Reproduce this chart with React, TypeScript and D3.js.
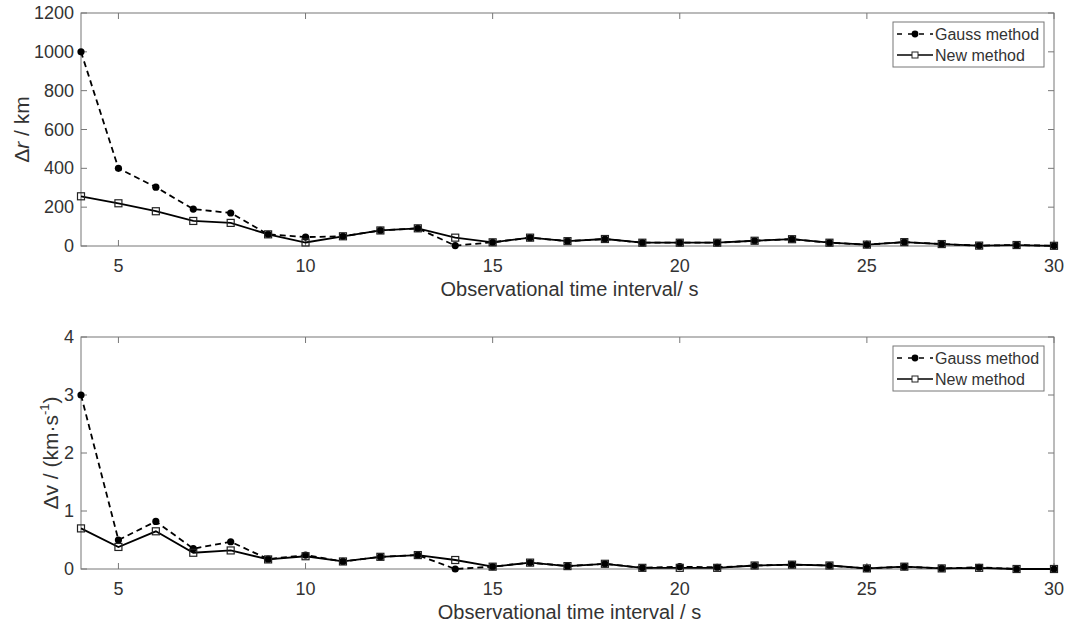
import React, { useEffect, useRef } from "react";
import { select, scaleLinear, line } from "d3";

// observational time interval (s)
const intervals = [4, 5, 6, 7, 8, 9, 10, 11, 12, 13, 14, 15, 16, 17, 18, 19, 20, 21, 22, 23, 24, 25, 26, 27, 28, 29, 30];

// position error, km
const gaussR = [1000, 400, 303, 190, 170, 60, 46, 50, 80, 91, 2, 19, 43, 25, 36, 17, 17, 17, 27, 35, 17, 7, 20, 10, 2, 5, 1];
const newR = [256, 220, 179, 129, 119, 60, 18, 50, 80, 91, 43, 19, 43, 25, 36, 17, 17, 17, 27, 35, 17, 7, 20, 10, 2, 5, 1];

// velocity error, km/s
const gaussV = [3.0, 0.5, 0.82, 0.35, 0.47, 0.17, 0.24, 0.13, 0.21, 0.24, 0.0, 0.04, 0.11, 0.05, 0.09, 0.02, 0.04, 0.03, 0.06, 0.075, 0.06, 0.01, 0.04, 0.01, 0.03, 0.0, 0.0];
const newV = [0.7, 0.38, 0.65, 0.28, 0.32, 0.165, 0.22, 0.13, 0.21, 0.24, 0.155, 0.04, 0.11, 0.05, 0.09, 0.02, 0.02, 0.02, 0.06, 0.075, 0.06, 0.01, 0.04, 0.01, 0.02, 0.0, 0.0];

const xTicks = [5, 10, 15, 20, 25, 30];
const rTicks = [0, 200, 400, 600, 800, 1000, 1200];
const vTicks = [0, 1, 2, 3, 4];

const seriesNames = ["Gauss method", "New method"];

const FONT = "'Liberation Sans', Arial, Helvetica, sans-serif";
const AXIS = "#777";
const TEXT = "#333";

function drawPanel(svg, opts) {
  const { top, bottom, left, right, yMax, yTicks, gauss, fresh, xLabel, yLabel } = opts;
  const x = scaleLinear().domain([4, 30]).range([left, right]);
  const y = scaleLinear().domain([0, yMax]).range([bottom, top]);
  const g = svg.append("g");

  // box
  g.append("rect")
    .attr("x", left)
    .attr("y", top)
    .attr("width", right - left)
    .attr("height", bottom - top)
    .attr("fill", "white")
    .attr("stroke", AXIS)
    .attr("stroke-width", 1);

  const tk = 6;
  xTicks.forEach((t) => {
    g.append("line").attr("x1", x(t)).attr("x2", x(t)).attr("y1", bottom).attr("y2", bottom - tk).attr("stroke", AXIS);
    g.append("line").attr("x1", x(t)).attr("x2", x(t)).attr("y1", top).attr("y2", top + tk).attr("stroke", AXIS);
    g.append("text")
      .attr("x", x(t))
      .attr("y", bottom + 26)
      .attr("text-anchor", "middle")
      .attr("font-size", 18)
      .attr("fill", TEXT)
      .text(t);
  });
  yTicks.forEach((t) => {
    g.append("line").attr("x1", left).attr("x2", left + tk).attr("y1", y(t)).attr("y2", y(t)).attr("stroke", AXIS);
    g.append("line").attr("x1", right).attr("x2", right - tk).attr("y1", y(t)).attr("y2", y(t)).attr("stroke", AXIS);
    g.append("text")
      .attr("x", left - 7)
      .attr("y", y(t) + 6)
      .attr("text-anchor", "end")
      .attr("font-size", 18)
      .attr("fill", TEXT)
      .text(t);
  });

  g.append("text")
    .attr("x", (left + right) / 2 + 2)
    .attr("y", bottom + 50)
    .attr("text-anchor", "middle")
    .attr("font-size", 20)
    .attr("fill", TEXT)
    .text(xLabel);

  yLabel(g, top, bottom);

  const pts = (vals) => intervals.map((d, i) => [x(d), y(vals[i])]);
  const path = line();

  g.append("path")
    .attr("d", path(pts(gauss)))
    .attr("fill", "none")
    .attr("stroke", "black")
    .attr("stroke-width", 1.8)
    .attr("stroke-dasharray", "6,4");
  g.append("path")
    .attr("d", path(pts(fresh)))
    .attr("fill", "none")
    .attr("stroke", "black")
    .attr("stroke-width", 1.8);

  g.selectAll(".gm")
    .data(pts(gauss))
    .enter()
    .append("circle")
    .attr("cx", (d) => d[0])
    .attr("cy", (d) => d[1])
    .attr("r", 3.6)
    .attr("fill", "black");
  g.selectAll(".nm")
    .data(pts(fresh))
    .enter()
    .append("rect")
    .attr("x", (d) => d[0] - 3.5)
    .attr("y", (d) => d[1] - 3.5)
    .attr("width", 7)
    .attr("height", 7)
    .attr("fill", "none")
    .attr("stroke", "#222")
    .attr("stroke-width", 1.2);

  // legend
  const lx = right - 161;
  const ly = top + 9;
  const lg = g.append("g").attr("transform", `translate(${lx},${ly})`);
  lg.append("rect")
    .attr("width", 151)
    .attr("height", 45)
    .attr("fill", "white")
    .attr("stroke", AXIS);
  seriesNames.forEach((name, i) => {
    const cy = 12 + i * 21;
    lg.append("line")
      .attr("x1", 4)
      .attr("x2", 40)
      .attr("y1", cy)
      .attr("y2", cy)
      .attr("stroke", "black")
      .attr("stroke-width", 1.6)
      .attr("stroke-dasharray", i === 0 ? "5,6" : null);
    if (i === 0) {
      lg.append("circle").attr("cx", 22).attr("cy", cy).attr("r", 3.4).attr("fill", "black");
    } else {
      lg.append("rect").attr("x", 19).attr("y", cy - 3).attr("width", 6).attr("height", 6).attr("fill", "white").attr("stroke", "#222");
    }
    lg.append("text")
      .attr("x", 42)
      .attr("y", cy + 6)
      .attr("font-size", 16)
      .attr("fill", TEXT)
      .text(name);
  });
}

export default function App() {
  const ref = useRef(null);

  useEffect(() => {
    const root = select(ref.current);
    root.selectAll("*").remove();
    const svg = root.attr("font-family", FONT);
    svg.append("rect").attr("width", 1069).attr("height", 628).attr("fill", "white");

    drawPanel(svg, {
      top: 13,
      bottom: 246,
      left: 81,
      right: 1054,
      yMax: 1200,
      yTicks: rTicks,
      gauss: gaussR,
      fresh: newR,
      xLabel: "Observational time interval/ s",
      yLabel: (g, top, bottom) => {
        const t = g
          .append("text")
          .attr("transform", `translate(29,${(top + bottom) / 2}) rotate(-90)`)
          .attr("text-anchor", "middle")
          .attr("font-size", 21)
          .attr("fill", TEXT);
        t.append("tspan").text("Δ");
        t.append("tspan").attr("font-style", "italic").text("r");
        t.append("tspan").text(" / km");
      },
    });

    drawPanel(svg, {
      top: 337,
      bottom: 569,
      left: 81,
      right: 1054,
      yMax: 4,
      yTicks: vTicks,
      gauss: gaussV,
      fresh: newV,
      xLabel: "Observational time interval / s",
      yLabel: (g, top, bottom) => {
        const t = g
          .append("text")
          .attr("transform", `translate(58,${(top + bottom) / 2}) rotate(-90)`)
          .attr("text-anchor", "middle")
          .attr("font-size", 21)
          .attr("fill", TEXT);
        t.append("tspan").text("Δv / (km·s");
        t.append("tspan").attr("font-size", 13).attr("dy", -9).text("-1");
        t.append("tspan").attr("dy", 9).text(")");
      },
    });
  }, []);

  return (
    <svg
      ref={ref}
      width={1069}
      height={628}
      style={{ position: "absolute", left: 0, top: 0, display: "block" }}
    />
  );
}
